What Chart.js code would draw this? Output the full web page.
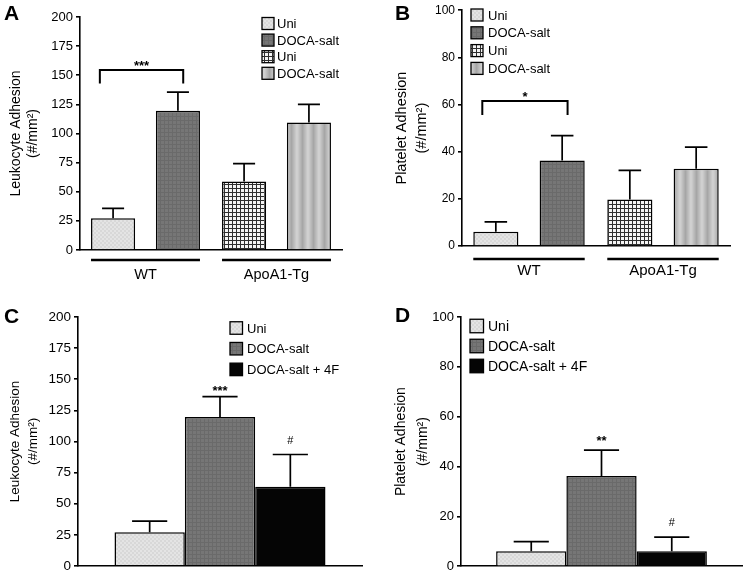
<!DOCTYPE html>
<html>
<head>
<meta charset="utf-8">
<script src="https://cdn.jsdelivr.net/npm/chart.js@4.4.1/dist/chart.umd.min.js"></script>
<style>
  html, body { margin: 0; padding: 0; background: #fff; }
  #fig { position: relative; width: 744px; height: 577px; overflow: hidden;
         font-family: "Liberation Sans", Arial, sans-serif; }
  .panel { position: absolute; }
  .tag { position: absolute; font-weight: bold; font-size: 21px; line-height: 21px; color: #000; }
</style>
</head>
<body>
<div id="fig">
  <canvas class="panel" id="cA" width="372" height="290" style="left:0;top:0"></canvas>
  <canvas class="panel" id="cB" width="372" height="290" style="left:372px;top:0"></canvas>
  <canvas class="panel" id="cC" width="372" height="287" style="left:0;top:290px"></canvas>
  <canvas class="panel" id="cD" width="372" height="287" style="left:372px;top:290px"></canvas>
  <div class="tag" style="left:4px;top:2px">A</div>
  <div class="tag" style="left:395px;top:2px">B</div>
  <div class="tag" style="left:4px;top:305px">C</div>
  <div class="tag" style="left:395px;top:304px">D</div>
</div>
<script>
// ---- data ----
const groupLabels = ["WT", "ApoA1-Tg"];
const groupSeries = ["Uni", "DOCA-salt", "Uni", "DOCA-salt"];
const groupOf = [0, 0, 1, 1];
const leukMeanAB = [27.2, 119.5, 58.7, 109.5];
const leukSemAB = [8.6, 16, 15.5, 15.5];
const platMeanAB = [6, 36.3, 19.7, 32.8];
const platSemAB = [4.2, 10.5, 12.4, 9.1];

const treatSeries = ["Uni", "DOCA-salt", "DOCA-salt + 4F"];
const leukMeanC = [27.1, 119.7, 63.7];
const leukSemC = [8.9, 16.3, 25.8];
const platMeanD = [6, 36.2, 6];
const platSemD = [3.9, 10.4, 5.7];
const sigC = ["", "***", "#"];
const sigD = ["", "**", "#"];

const leukTicks = [0, 25, 50, 75, 100, 125, 150, 175, 200];
const platTicks = [0, 20, 40, 60, 80, 100];
const yTitleLeuk = ["Leukocyte Adhesion", "(#/mm\u00b2)"];
const yTitlePlat = ["Platelet Adhesion", "(#/mm\u00b2)"];

const FONT = '"Liberation Sans", Arial, Helvetica, sans-serif';
Chart.defaults.font.family = FONT;
Chart.defaults.color = "#000";
Chart.defaults.animation = false;

// ---- fill patterns ----
function makePattern(w, h, paint) {
  const c = document.createElement("canvas");
  c.width = w; c.height = h;
  const g = c.getContext("2d");
  paint(g, w, h);
  return g.createPattern(c, "repeat");
}
const fillUni = makePattern(4, 4, (g) => {
  g.fillStyle = "#d8d8d8"; g.fillRect(0, 0, 4, 4);
  g.fillStyle = "#e4e4e4"; g.fillRect(0, 0, 2, 2); g.fillRect(2, 2, 2, 2);
});
const fillDoca = makePattern(4, 4, (g) => {
  g.fillStyle = "#767676"; g.fillRect(0, 0, 4, 4);
  g.fillStyle = "#6a6a6a"; g.fillRect(0, 0, 4, 1); g.fillRect(0, 0, 1, 4);
});
const fillGrid = makePattern(4, 4, (g) => {
  g.fillStyle = "#f4f4f4"; g.fillRect(0, 0, 4, 4);
  g.fillStyle = "#2e2e2e"; g.fillRect(0, 0, 4, 1); g.fillRect(0, 0, 1, 4);
});
const fillStripe = makePattern(11, 1, (g) => {
  const gr = g.createLinearGradient(0, 0, 11, 0);
  gr.addColorStop(0, "#d4d4d4");
  gr.addColorStop(0.5, "#a6a6a6");
  gr.addColorStop(1, "#d4d4d4");
  g.fillStyle = gr; g.fillRect(0, 0, 11, 1);
});
const fillBlack = "#050505";

// ---- plugins ----
const errorBars = {
  id: "errorBars",
  afterDatasetsDraw(chart) {
    const ctx = chart.ctx, y = chart.scales.y;
    ctx.save();
    ctx.strokeStyle = "#000";
    ctx.lineWidth = 1.7;
    chart.data.datasets.forEach((ds, i) => {
      chart.getDatasetMeta(i).data.forEach((bar, j) => {
        const v = ds.data[j];
        if (v == null) return;
        const top = y.getPixelForValue(v + ds.sem[j]);
        const half = bar.width / 4;
        ctx.beginPath();
        ctx.moveTo(bar.x, bar.y);
        ctx.lineTo(bar.x, top);
        ctx.moveTo(bar.x - half, top);
        ctx.lineTo(bar.x + half, top);
        ctx.stroke();
      });
    });
    ctx.restore();
  },
};

const boxLegend = {
  id: "boxLegend",
  afterDraw(chart, args, o) {
    const ctx = chart.ctx;
    ctx.save();
    ctx.font = o.size + "px " + FONT;
    ctx.textBaseline = "middle";
    chart.data.datasets.forEach((ds, i) => {
      const cy = o.y + i * o.step;
      ctx.fillStyle = ds.backgroundColor;
      ctx.fillRect(o.x, cy - o.box / 2, o.box, o.box);
      ctx.lineWidth = 1.3;
      ctx.strokeStyle = "#000";
      ctx.strokeRect(o.x, cy - o.box / 2, o.box, o.box);
      ctx.fillStyle = "#000";
      ctx.fillText(ds.label, o.textX, cy + 1);
    });
    ctx.restore();
  },
};

// underline under each x group (panels A, B)
const groupLines = {
  id: "groupLines",
  afterDraw(chart, args, o) {
    if (!o.on) return;
    const ctx = chart.ctx;
    const yy = chart.chartArea.bottom + o.gap;
    ctx.save();
    ctx.strokeStyle = "#000";
    ctx.lineWidth = 2.4;
    groupLabels.forEach((_, g) => {
      let lo = Infinity, hi = -Infinity;
      chart.data.datasets.forEach((ds, i) => {
        if (ds.data[g] == null) return;
        const bar = chart.getDatasetMeta(i).data[g];
        lo = Math.min(lo, bar.x - bar.width / 2);
        hi = Math.max(hi, bar.x + bar.width / 2);
      });
      ctx.beginPath();
      ctx.moveTo(lo, yy);
      ctx.lineTo(hi, yy);
      ctx.stroke();
    });
    ctx.restore();
  },
};

// significance bracket between two bars (panels A, B)
const bracket = {
  id: "bracket",
  afterDraw(chart, args, o) {
    if (!o.text) return;
    const ctx = chart.ctx, y = chart.scales.y;
    const b0 = chart.getDatasetMeta(o.a).data[0];
    const b1 = chart.getDatasetMeta(o.b).data[0];
    const x0 = b0.x - b0.width * 0.3, x1 = b1.x + b1.width * 0.12;
    const yt = y.getPixelForValue(o.top), yb = y.getPixelForValue(o.drop);
    ctx.save();
    ctx.strokeStyle = "#000";
    ctx.lineWidth = 2;
    ctx.beginPath();
    ctx.moveTo(x0, yb); ctx.lineTo(x0, yt); ctx.lineTo(x1, yt); ctx.lineTo(x1, yb);
    ctx.stroke();
    ctx.fillStyle = "#000";
    ctx.font = "bold 13px " + FONT;
    ctx.textAlign = "center";
    ctx.textBaseline = "alphabetic";
    ctx.fillText(o.text, (x0 + x1) / 2, yt);
    ctx.restore();
  },
};

// marks above bars (panels C, D)
const barMarks = {
  id: "barMarks",
  afterDraw(chart, args, o) {
    if (!o.marks) return;
    const ctx = chart.ctx, y = chart.scales.y;
    ctx.save();
    ctx.fillStyle = "#000";
    ctx.textAlign = "center";
    o.marks.forEach((m, i) => {
      if (!m) return;
      const bar = chart.getDatasetMeta(i).data[0];
      ctx.font = (m === "#" ? "11px " : "bold 13px ") + FONT;
      ctx.fillText(m, bar.x, y.getPixelForValue(o.at[i]));
    });
    ctx.restore();
  },
};

// ---- builders ----
function yScale(ticks, max, title, o) {
  return {
    min: 0, max,
    afterBuildTicks(s) { s.ticks = ticks.map((v) => ({ value: v })); },
    grid: { drawOnChartArea: false, color: "#000", lineWidth: 1.6, tickLength: 4 },
    border: { color: "#000", width: 1.6 },
    ticks: { font: { size: o.tick }, padding: 3, color: "#000" },
    title: {
      display: true, text: title, color: "#000",
      font: { size: o.title, lineHeight: o.lh + "px" },
      padding: { top: o.tpad, bottom: 0 },
    },
    afterFit(s) { s.width = o.w; },
  };
}

function groupChart(id, means, sems, fills, ticks, max, title, o) {
  const datasets = groupSeries.map((label, i) => ({
    label,
    data: groupLabels.map((_, g) => (g === groupOf[i] ? means[i] : null)),
    sem: groupLabels.map((_, g) => (g === groupOf[i] ? sems[i] : null)),
    backgroundColor: fills[i],
    borderColor: "#000",
    borderWidth: 1.5,
    skipNull: true,
    barPercentage: 0.68,
    categoryPercentage: 0.99,
  }));
  return new Chart(document.getElementById(id), {
    type: "bar",
    data: { labels: groupLabels, datasets },
    options: {
      responsive: false,
      layout: { padding: o.pad },
      events: [],
      plugins: {
        legend: { display: false },
        tooltip: { enabled: false },
        boxLegend: o.legend,
        groupLines: { on: true, gap: o.gap },
        bracket: o.bracket,
      },
      scales: {
        x: {
          grid: { display: false, drawTicks: false },
          border: { display: true, color: "#000", width: 1.6 },
          ticks: { font: { size: o.xfont }, padding: o.xpad, color: "#000" },
          afterFit(s) { s.height = o.xh; },
        },
        y: yScale(ticks, max, title, o.y),
      },
    },
    plugins: [errorBars, boxLegend, groupLines, bracket],
  });
}

function treatChart(id, means, sems, marks, ticks, max, title, o) {
  const fills = [fillUni, fillDoca, fillBlack];
  const datasets = treatSeries.map((label, i) => ({
    label,
    data: [means[i]],
    sem: [sems[i]],
    backgroundColor: fills[i],
    borderColor: "#000",
    borderWidth: 1.5,
    barPercentage: 1,
    categoryPercentage: o.cat,
  }));
  return new Chart(document.getElementById(id), {
    type: "bar",
    data: { labels: [""], datasets },
    options: {
      responsive: false,
      layout: { padding: o.pad },
      events: [],
      plugins: {
        legend: { display: false },
        tooltip: { enabled: false },
        boxLegend: o.legend,
        barMarks: { marks, at: o.markAt },
      },
      scales: {
        x: {
          grid: { display: false, drawTicks: false },
          border: { display: true, color: "#000", width: 1.6 },
          ticks: { display: false },
          afterFit(s) { s.height = o.xh; },
        },
        y: yScale(ticks, max, title, o.y),
      },
    },
    plugins: [errorBars, boxLegend, barMarks],
  });
}

groupChart("cA", leukMeanAB, leukSemAB, [fillUni, fillDoca, fillGrid, fillStripe],
  leukTicks, 200, yTitleLeuk, {
    pad: { top: 17, right: 30, left: 0, bottom: 0 },
    xh: 40, gap: 10, xfont: 14.5, xpad: 16,
    y: { tick: 13, title: 14, lh: 17, tpad: 8, w: 80 },
    legend: { x: 262, y: 23.5, step: 16.6, box: 12, textX: 277, size: 13 },
    bracket: { a: 0, b: 1, top: 154.5, drop: 143, text: "***" },
  });

groupChart("cB", platMeanAB, platSemAB, [fillUni, fillDoca, fillGrid, fillStripe],
  platTicks, 100, yTitlePlat, {
    pad: { top: 7, right: 14, left: 0, bottom: 0 },
    xh: 44, gap: 13, xfont: 15, xpad: 16,
    y: { tick: 12, title: 14.5, lh: 20, tpad: 20, w: 90 },
    legend: { x: 99, y: 15, step: 17.8, box: 12, textX: 116, size: 13 },
    bracket: { a: 0, b: 1, top: 61.5, drop: 55.6, text: "*" },
  });

treatChart("cC", leukMeanC, leukSemC, sigC, leukTicks, 200, yTitleLeuk, {
  pad: { top: 27, right: 10, left: 0, bottom: 0 },
  xh: 7,
  cat: 0.743,
  y: { tick: 13.5, title: 13.5, lh: 18, tpad: 6, w: 78 },
  legend: { x: 230, y: 38, step: 20.7, box: 12.5, textX: 247, size: 13 },
  markAt: [0, 137.5, 98],
});

treatChart("cD", platMeanD, platSemD, sigD, platTicks, 100, yTitlePlat, {
  pad: { top: 27, right: 2, left: 0, bottom: 0 },
  xh: 9,
  cat: 0.75,
  y: { tick: 13, title: 14, lh: 22, tpad: 18, w: 89 },
  legend: { x: 98, y: 36, step: 20, box: 13.5, textX: 116, size: 14 },
  markAt: [0, 48.6, 16],
});
</script>
</body>
</html>
